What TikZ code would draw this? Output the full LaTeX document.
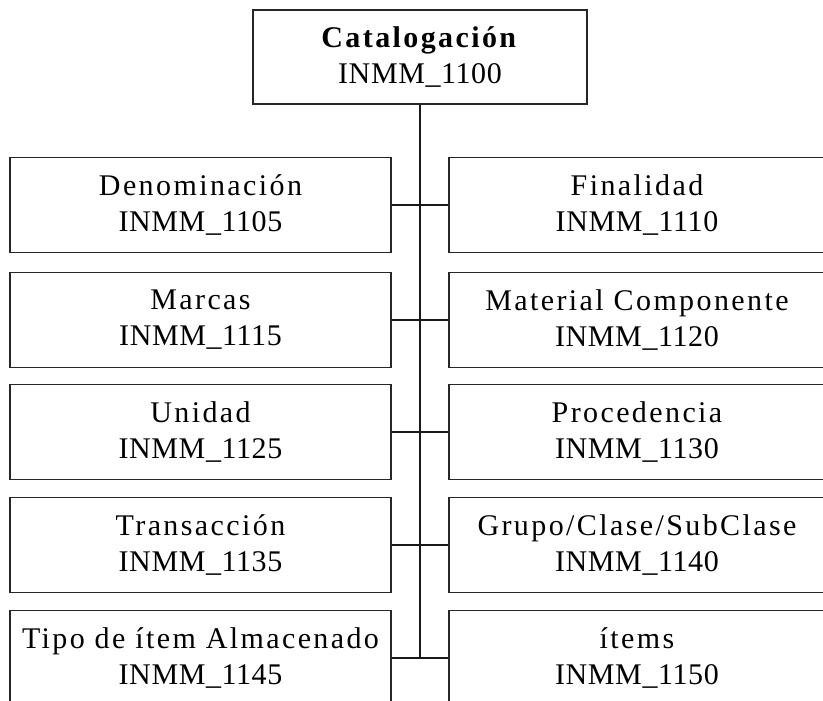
\documentclass[tikz,border=0pt]{standalone}
\usepackage{fontspec}
\setmainfont{Liberation Serif}[LetterSpace=8]
\usepackage{tikz}
\usetikzlibrary{positioning}
\newcommand{\modcode}[1]{{\addfontfeatures{LetterSpace=2}#1}}
\tikzstyle{modbox} = [draw=black!85, line width=1.6pt, align=center, inner sep=0pt, minimum height=95pt, font=\fontsize{30pt}{36pt}\selectfont]
\tikzstyle{leftbox} = [modbox, minimum width=381pt]
\tikzstyle{rightbox} = [modbox, minimum width=376pt]
\tikzstyle{link} = [draw=black!90, line width=1.6pt]

\begin{document}
\begin{tikzpicture}[x=1pt,y=-1pt]
    \useasboundingbox (0,0) rectangle (823,701);
    \clip (0,0) rectangle (823,701);
    \node [modbox, minimum width=334pt, minimum height=94pt] (cat) at (420,57) {\textbf{Catalogación}\\\modcode{INMM\_1100}};
    \node [leftbox] (den) at (200.5,205) {Denominación\\\modcode{INMM\_1105}};
    \node [rightbox] (fin) at (637,205) {Finalidad\\\modcode{INMM\_1110}};
    \node [leftbox] (mar) at (200.5,320) {Marcas\\\modcode{INMM\_1115}};
    \node [rightbox] (mat) at (637,320) {Material Componente\\\modcode{INMM\_1120}};
    \node [leftbox] (uni) at (200.5,432) {Unidad\\\modcode{INMM\_1125}};
    \node [rightbox] (pro) at (637,432) {Procedencia\\\modcode{INMM\_1130}};
    \node [leftbox] (tra) at (200.5,545) {Transacción\\\modcode{INMM\_1135}};
    \node [rightbox] (gru) at (637,545) {Grupo/Clase/SubClase\\\modcode{INMM\_1140}};
    \node [leftbox] (tip) at (200.5,658) {Tipo de ítem Almacenado\\\modcode{INMM\_1145}};
    \node [rightbox] (ite) at (637,658) {ítems\\\modcode{INMM\_1150}};
    \draw [link] (cat.south) -- (cat.south |- tip.east);
    \draw [link] (den.east) -- (fin.west);
    \draw [link] (mar.east) -- (mat.west);
    \draw [link] (uni.east) -- (pro.west);
    \draw [link] (tra.east) -- (gru.west);
    \draw [link] (tip.east) -- (ite.west);
\end{tikzpicture}
\end{document}
